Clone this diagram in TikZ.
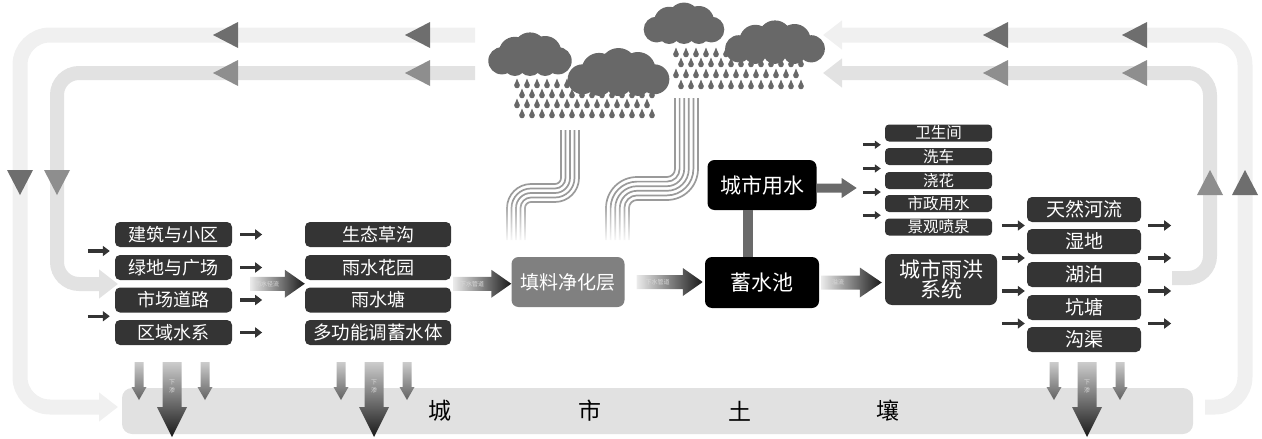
\documentclass[tikz,border=0pt]{standalone}
\usepackage{fontspec}
\setmainfont{Noto Sans CJK SC}
\usetikzlibrary{arrows.meta,calc,fadings}

\definecolor{bandA}{HTML}{F0F0F0}
\definecolor{bandB}{HTML}{E2E2E2}
\definecolor{triA}{HTML}{6E6E6E}
\definecolor{triB}{HTML}{8E8E8E}
\definecolor{cloudc}{HTML}{686868}
\definecolor{boxc}{HTML}{343434}
\definecolor{soilc}{HTML}{E1E1E1}
\definecolor{streamc}{HTML}{9A9A9A}
\definecolor{barc}{HTML}{6A6A6A}

\tikzfading[name=fadedown, top color=transparent!100, bottom color=transparent!0]

% horizontal block arrow between two points: style, from, to, half shaft, half head, head length
\newcommand\harrow[6]{%
  \path[#1] let \p1=(#2), \p2=(#3) in
    (\x1,\y1-#4) -- (\x2-#6,\y1-#4) -- (\x2-#6,\y1-#5) -- (\x2,\y1)
    -- (\x2-#6,\y1+#5) -- (\x2-#6,\y1+#4) -- (\x1,\y1+#4) -- cycle;}
% downward block arrow: style, top, tip, half shaft, half head, head length
\newcommand\varrow[6]{%
  \path[#1] let \p1=(#2), \p2=(#3) in
    (\x1-#4,\y1) -- (\x1-#4,\y2+#6) -- (\x1-#5,\y2+#6) -- (\x1,\y2)
    -- (\x1+#5,\y2+#6) -- (\x1+#4,\y2+#6) -- (\x1+#4,\y1) -- cycle;}
% cloud made of overlapping discs: left, top, width, height
\newcommand\cloudat[4]{%
  \foreach \cx/\cy/\cr in {0.13/0.62/0.34, 0.30/0.42/0.40, 0.50/0.33/0.42,
      0.70/0.40/0.40, 0.87/0.62/0.34, 0.30/0.72/0.28, 0.50/0.70/0.30, 0.70/0.72/0.28}{
    \pgfmathsetmacro\rr{\cr*#4}
    \fill[cloudc] ({#1+\cx*#3},{#2+\cy*#4}) circle[radius=\rr];
  }}
% rain drop centred at x, y
\newcommand\raindrop[2]{%
  \fill[cloudc] ({#1},{#2+1.5}) circle[radius=2.8];
  \fill[cloudc] ({#1-2.6},{#2+0.8}) -- ({#1},{#2-5.5}) -- ({#1+2.6},{#2+0.8}) -- cycle;}

\begin{document}
\begin{tikzpicture}[x=1pt,y=-1pt,
  lbox/.style={fill=boxc, rounded corners=5, text=white, inner sep=0,
    minimum width=117, minimum height=25, font=\fontsize{18}{19}\selectfont},
  mbox/.style={lbox, minimum width=146},
  ubox/.style={lbox, minimum width=107, minimum height=17, rounded corners=4,
    font=\fontsize{15.5}{16}\selectfont},
  obox/.style={lbox, minimum width=114, font=\fontsize{19}{20}\selectfont},
  kbox/.style={fill=black, rounded corners=7, text=white, inner sep=0,
    minimum width=113, minimum height=50, font=\fontsize{21}{21}\selectfont},
  fbox/.style={kbox, fill=black!50, font=\fontsize{19}{20}\selectfont},
  hbox/.style={kbox, fill=boxc, align=center, font=\fontsize{21}{20}\selectfont},
  soilband/.style={fill=soilc, rounded corners=10, inner sep=0,
    minimum width=1071, minimum height=46},
  soiltext/.style={font=\fontsize{23}{23}\selectfont, text=black},
  sarrow/.style={draw=boxc, line width=3.5, -{Triangle[length=7pt,width=10pt]}},
  tarrow/.style={draw=boxc, line width=3, -{Triangle[length=6pt,width=8pt]}},
  bandouter/.style={draw=bandA, line width=15, rounded corners=30},
  bandinner/.style={draw=bandB, line width=14, rounded corners=22},
  flowtip/.style={-{Triangle[length=19pt,width=28pt]}},
  pipe/.style={left color=white!92!black, right color=black!90},
  pipelabel/.style={text=white!85!black, inner sep=0, font=\fontsize{6}{6}\selectfont},
  seep/.style={top color=white!80!black, bottom color=black!90},
  seepthin/.style={top color=black!20, bottom color=black!62},
  stream/.style={draw=streamc, line width=1.7}
]
\useasboundingbox (0,0) rectangle (1262,439);

% ---------- water cycle loops ----------
\draw[bandouter, flowtip] (475,35) -- (20,35) -- (20,407) -- (118,407);
\draw[bandinner, flowtip] (475,73) -- (57,73) -- (57,284) -- (118,284);
\draw[bandouter, flowtip] (1205,407) -- (1245,407) -- (1245,35) -- (823,35);
\draw[bandinner, flowtip] (1172,278) -- (1210,278) -- (1210,73) -- (823,73);

% direction marks on the loops
\foreach \tx in {213,405,983,1122}{
  \fill[triA] (\tx,35) -- ({\tx+25},22) -- ({\tx+25},48) -- cycle;
  \fill[triB] (\tx,73) -- ({\tx+25},60) -- ({\tx+25},86) -- cycle;
}
\fill[triA] (20,195) -- (7,170) -- (33,170) -- cycle;
\fill[triB] (57,195) -- (44,170) -- (70,170) -- cycle;
\fill[triA] (1245,170) -- (1232,195) -- (1258,195) -- cycle;
\fill[triB] (1210,170) -- (1197,195) -- (1223,195) -- cycle;

% ---------- rain streams ----------
\foreach \d in {0,4.5,9,13.5,18}{
  \pgfmathsetmacro\ra{6+\d}
  \pgfmathsetmacro\rb{24-\d}
  \draw[stream] ({561+\d},130) -- ({561+\d},{184+\d-\ra})
    .. controls ({561+\d},{184+\d-0.448*\ra}) and ({561+\d-0.448*\ra},{184+\d}) .. ({561+\d-\ra},{184+\d})
    -- ({507+\d+\rb},{184+\d})
    .. controls ({507+\d+0.448*\rb},{184+\d}) and ({507+\d},{184+\d+0.448*\rb}) .. ({507+\d},{184+\d+\rb})
    -- ({507+\d},240);
}
\foreach \d in {0,4.6,9.2,13.8,18.4,23}{
  \pgfmathsetmacro\ra{8+\d}
  \pgfmathsetmacro\rb{31-\d}
  \draw[stream] ({675+\d},98) -- ({675+\d},{177+\d-\ra})
    .. controls ({675+\d},{177+\d-0.448*\ra}) and ({675+\d-0.448*\ra},{177+\d}) .. ({675+\d-\ra},{177+\d})
    -- ({606+\d+\rb},{177+\d})
    .. controls ({606+\d+0.448*\rb},{177+\d}) and ({606+\d},{177+\d+0.448*\rb}) .. ({606+\d},{177+\d+\rb})
    -- ({606+\d},240);
}
\fill[white, path fading=fadedown] (495,200) rectangle (640,243);

% ---------- rain ----------
\foreach \yy/\off in {84/0, 94/5, 104/0, 114/5}{
  \foreach \xx in {517,527,...,647}{ \raindrop{\xx+\off}{\yy} }
}
\foreach \yy/\off in {53/0, 63/5, 74/0, 85/5}{
  \foreach \xx in {676,686,...,801}{ \raindrop{\xx+\off}{\yy} }
}
\cloudat{492}{36}{76}{40}
\cloudat{570}{52}{97}{44}
\cloudat{647}{6}{74}{38}
\cloudat{726}{24}{98}{40}

% ---------- soil ----------
\node[soilband] (soil) at (657.5,411) {};
\node[soiltext] (s1) at (440,411) {城};
\node[soiltext] (s2) at (590,411) {市};
\node[soiltext] (s3) at (740,411) {土};
\node[soiltext] (s4) at (888,411) {壤};

% ---------- source surfaces ----------
\node[lbox] (a1) at (173.5,234.5) {建筑与小区};
\node[lbox] (a2) at (173.5,267.5) {绿地与广场};
\node[lbox] (a3) at (173.5,300) {市场道路};
\node[lbox] (a4) at (173.5,332.5) {区域水系};

% ---------- facilities ----------
\node[mbox] (b1) at (378,234.5) {生态草沟};
\node[mbox] (b2) at (378,267.5) {雨水花园};
\node[mbox] (b3) at (378,300) {雨水塘};
\node[mbox, font=\fontsize{18.5}{19}\selectfont] (b4) at (378,332.5) {多功能调蓄水体};

\node[fbox] (f) at (568,282) {填料净化层};
\node[kbox, minimum width=114, minimum height=51] (x) at (762,282.5) {蓄水池};
\node[kbox, minimum width=109] (y) at (762,185) {城市用水};

\node[ubox] (u1) at (938.5,133) {卫生间};
\node[ubox] (u2) at (938.5,156.5) {洗车};
\node[ubox] (u3) at (938.5,180.5) {浇花};
\node[ubox] (u4) at (938.5,203.5) {市政用水};
\node[ubox] (u5) at (938.5,227) {景观喷泉};

\node[hbox, minimum width=112, minimum height=51] (h) at (941,279.5) {城市雨洪\\系统};

\node[obox] (o1) at (1084,209.5) {天然河流};
\node[obox] (o2) at (1084,241.5) {湿地};
\node[obox] (o3) at (1084,274.5) {湖泊};
\node[obox] (o4) at (1084,307.5) {坑塘};
\node[obox] (o5) at (1084,339.5) {沟渠};

% ---------- small flow arrows ----------
\draw[sarrow] ($(a1.south west)!.5!(a2.north west)+(-27,0)$) -- ++(22,0);
\draw[sarrow] ($(a3.south west)!.5!(a4.north west)+(-27,0)$) -- ++(22,0);
\foreach \n in {a1,a2,a3,a4}{ \draw[sarrow] ([xshift=8]\n.east) -- ++(22,0); }

\foreach \p/\q in {u1/u2,u2/u3,u3/u4,u4/u5}{
  \draw[tarrow] ($(\p.south west)!.5!(\q.north west)+(-22,0)$) -- ++(18,0);
}
\foreach \p/\q in {o1/o2,o2/o3,o3/o4,o4/o5}{
  \draw[sarrow] ($(\p.south west)!.5!(\q.north west)+(-25,0)$) -- ++(23,0);
  \draw[sarrow] ($(\p.south east)!.5!(\q.north east)+(7,0)$) -- ++(23,0);
}

% ---------- main pipe arrows ----------
\coordinate (p1s) at ($(a2.south east)!.5!(a3.north east)+(18,0)$);
\coordinate (p1e) at ($(b2.south west)!.5!(b3.north west)$);
\harrow{pipe}{p1s}{p1e}{7pt}{14pt}{20pt}
\node[pipelabel] (l1) at ($(p1s)+(17,0)$) {雨水径流};

\coordinate (p2s) at ($(b2.south east)!.5!(b3.north east)+(2,0)$);
\harrow{pipe}{p2s}{f.west}{7pt}{14pt}{20pt}
\node[pipelabel] (l2) at ($(p2s)+(19,0)$) {下水管道};

\coordinate (p3s) at ([xshift=12]f.east);
\coordinate (p3e) at ([xshift=-2]x.west);
\harrow{pipe}{p3s}{p3e}{7pt}{14pt}{20pt}
\node[pipelabel] (l3) at ($(p3s)+(21,0)$) {下水管道};

\coordinate (p4s) at ([xshift=2]x.east);
\coordinate (p4e) at ([xshift=-3]h.west);
\harrow{pipe}{p4s}{p4e}{7pt}{15pt}{22pt}
\node[pipelabel] (l4) at ($(p4s)+(17,0)$) {溢流};

% supply from the tank
\draw[draw=barc, line width=10] ([xshift=-14]y.south) -- ([xshift=-14]x.north);
\coordinate (ys) at ([yshift=-3]y.east);
\coordinate (ye) at ($(ys)+(40,0)$);
\harrow{fill=barc}{ys}{ye}{4.5pt}{10pt}{15pt}

% ---------- infiltration into the soil ----------
\foreach \cx in {172, 374, 1087}{
  \coordinate (st\cx) at (\cx,362);
  \coordinate (en\cx) at (\cx,437);
  \coordinate (sl\cx) at ({\cx-33},362);
  \coordinate (el\cx) at ({\cx-33},400);
  \coordinate (sr\cx) at ({\cx+33},362);
  \coordinate (er\cx) at ({\cx+33},400);
  \varrow{seepthin}{sl\cx}{el\cx}{4.5pt}{7.5pt}{13pt}
  \varrow{seepthin}{sr\cx}{er\cx}{4.5pt}{7.5pt}{13pt}
  \varrow{seep}{st\cx}{en\cx}{9.5pt}{15pt}{30pt}
  \node[pipelabel, align=center, font=\fontsize{6}{8}\selectfont] (dl\cx) at (\cx,386) {下\\渗};
}
\end{tikzpicture}
\end{document}
